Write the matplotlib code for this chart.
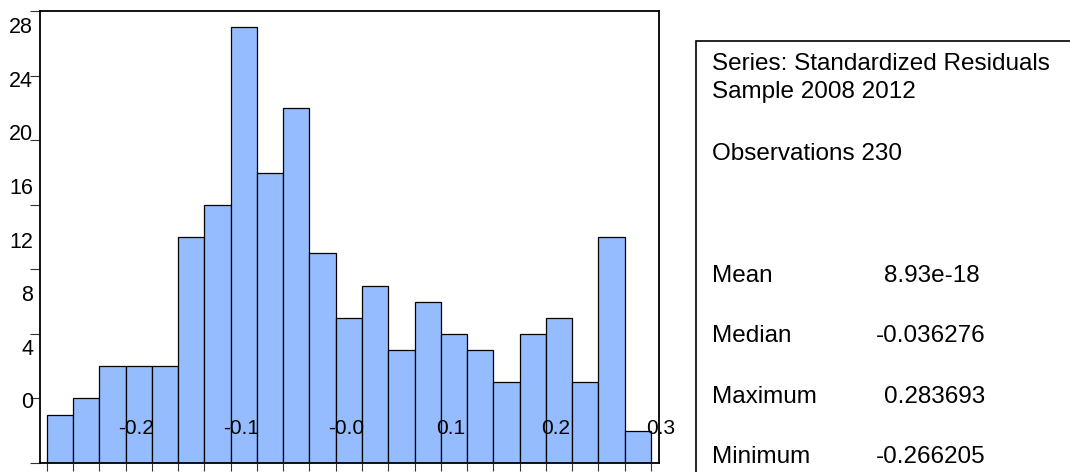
import matplotlib
matplotlib.use("Agg")
import matplotlib.pyplot as plt
import matplotlib.transforms as mtransforms
from matplotlib.patches import Rectangle

plt.rcParams['font.family'] = ['Liberation Sans', 'DejaVu Sans']

# ---- data ----
bin_start = -0.275
bin_width = 0.025
counts = [3, 4, 6, 6, 6, 14, 16, 27, 18, 22, 13, 9, 11, 7, 10, 8, 7, 5, 8, 9, 5, 14, 2]
x_tick_values = [-0.2, -0.1, 0.0, 0.1, 0.2, 0.3]
x_tick_labels = ["-0.2", "-0.1", "-0.0", "0.1", "0.2", "0.3"]
y_tick_values = [0, 4, 8, 12, 16, 20, 24, 28]
y_tick_labels = ["0", "4", "8", "12", "16", "20", "24", "28"]
stats_labels = ["Mean", "Median", "Maximum", "Minimum"]
stats_values = ["8.93e-18", "-0.036276", "0.283693", "-0.266205"]
header_lines = ["Series: Standardized Residuals", "Sample 2008 2012", "Observations 230"]

edges = [bin_start + i * bin_width for i in range(len(counts) + 1)]
lefts = edges[:-1]

W, H = 1070, 472
fig = plt.figure(figsize=(W / 100, H / 100), dpi=100)
ax_l, ax_r, ax_t, ax_b = 39.5, 659, 11, 463
ax = fig.add_axes([ax_l / W, (H - ax_b) / H, (ax_r - ax_l) / W, (ax_b - ax_t) / H])

ax.bar(lefts, counts, width=bin_width, align='edge', color='#94BCFF',
       edgecolor='black', linewidth=0.9)
ax.set_xlim(-0.28195, 0.30762)
ax.set_ylim(0, 28.02)

for s in ax.spines.values():
    s.set_linewidth(1.3)
    s.set_color('black')

ax.set_xticks(edges)
ax.set_xticklabels([])
ax.tick_params(axis='x', direction='out', length=6, width=0.8, color='#333333')
ax.set_yticks(y_tick_values)
ax.set_yticklabels([])
ax.tick_params(axis='y', direction='out', length=7, width=0.8, color='#333333')

# y labels drawn offset from their ticks, as in the reference rendering
for i, lab in enumerate(y_tick_labels):
    py = 403 - i * 53.6
    fig.text(33 / W, (H - py) / H, lab, fontsize=15.5, ha='right', va='center')

# x labels drawn inside the plot, shifted right
trans_x = mtransforms.blended_transform_factory(ax.transData, ax.transAxes)
trans_x = mtransforms.offset_copy(trans_x, fig=fig, x=10, y=0, units='dots')
for v, lab in zip(x_tick_values, x_tick_labels):
    ax.text(v, (ax_b - 428) / (ax_b - ax_t), lab, fontsize=15, ha='center',
            va='center', transform=trans_x)

# stats panel
box_left, box_top = 696, 40.7
fig.patches.append(Rectangle((box_left / W, -0.1), 1.2, (H - box_top) / H + 0.1,
                             transform=fig.transFigure, fill=False,
                             edgecolor='black', linewidth=1.2))
tx = 712 / W
for line, base in zip(header_lines, [70, 98, 160]):
    fig.text(tx, (H - base) / H, line, fontsize=17.5, ha='left', va='baseline')
for lab, val, base in zip(stats_labels, stats_values, [281.5, 341.7, 403, 463]):
    fig.text(tx, (H - base) / H, lab, fontsize=17.5, ha='left', va='baseline')
    vx = 876 if val.startswith('-') else 884
    fig.text(vx / W, (H - base) / H, val, fontsize=17.5, ha='left', va='baseline')

fig.savefig('out.png', dpi=100)
